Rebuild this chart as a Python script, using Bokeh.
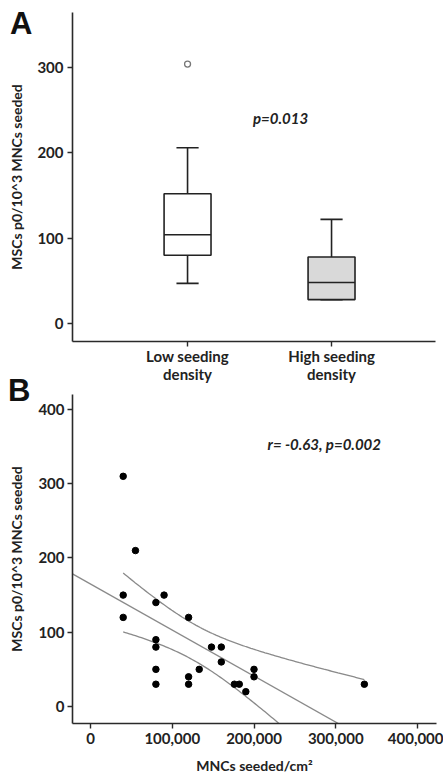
import numpy as np
from bokeh.plotting import figure
from bokeh.layouts import column
from bokeh.models import Range1d, FixedTicker, NumeralTickFormatter, Label, Div
from bokeh.embed import file_html
from bokeh.resources import INLINE

# ---------------- data ----------------
groups = ["Low seeding\ndensity", "High seeding\ndensity"]
group_pos = [1, 2]
box_q1 = [80, 28]
box_median = [104, 48]
box_q3 = [152, 78]
whisker_low = [47, 28]
whisker_high = [206, 122]
box_fill = ["#ffffff", "#d9d9d9"]
outlier_pos = [1]
outlier_value = [304]
p_text_a = "p=0.013"

mnc_seeded = [40000, 55000, 40000, 40000, 80000, 90000, 80000, 80000, 80000, 80000,
              120000, 120000, 120000, 133000, 148000, 160000, 160000, 176000, 182000,
              190000, 200000, 200000, 335000]
msc_p0 = [310, 210, 150, 120, 140, 150, 90, 80, 50, 30,
          120, 40, 30, 50, 80, 80, 60, 30, 30, 20, 50, 40, 30]
r_text_b = "r= -0.63, p=0.002"

y_ticks_a = [0, 100, 200, 300]
y_ticks_b = [0, 100, 200, 300, 400]
x_ticks_b = [0, 100000, 200000, 300000, 400000]

FONT = "Lato"
AX = "#2a2a2a"


def style_axes(p):
    p.outline_line_color = None
    p.border_fill_color = None
    p.grid.visible = False
    for ax in (p.xaxis[0], p.yaxis[0]):
        ax.axis_line_color = AX
        ax.axis_line_width = 1.6
        ax.major_tick_line_color = AX
        ax.major_tick_line_width = 1.4
        ax.major_tick_out = 5
        ax.major_tick_in = 0
        ax.minor_tick_line_color = None
        ax.major_label_text_font = FONT
        ax.major_label_text_font_style = "bold"
        ax.major_label_text_font_size = "15px"
        ax.major_label_text_color = "#222222"
        ax.axis_label_text_font = FONT
        ax.axis_label_text_font_style = "bold"
        ax.axis_label_text_font_size = "14px"
        ax.axis_label_text_color = "#222222"


def panel_letter(letter, top, height, pad_left):
    return Div(text=letter, width=40, height=height, margin=(top, 0, -(top + height), 0),
               styles={"font-family": "Liberation Sans", "font-weight": "bold",
                       "font-size": "31px", "color": "#111111", "line-height": "36px",
                       "padding-left": "%dpx" % pad_left})


# ---------------- panel A ----------------
pA = figure(frame_width=363, frame_height=329, x_range=Range1d(0.201, 2.722), y_range=Range1d(-21.1, 364.5),
            output_backend="svg", toolbar_location=None,
            min_border_left=72, min_border_right=8, min_border_top=12, min_border_bottom=0)
style_axes(pA)
pA.yaxis.ticker = FixedTicker(ticks=y_ticks_a)
pA.xaxis.ticker = FixedTicker(ticks=group_pos)
pA.xaxis.major_label_overrides = {group_pos[i]: groups[i] for i in range(len(groups))}
pA.xaxis.major_label_standoff = 0
pA.xaxis.major_label_text_line_height = 1.0
pA.yaxis.major_label_standoff = 4
pA.yaxis.axis_label = "MSCs p0/10^3 MNCs seeded"
pA.yaxis.axis_label_standoff = 9

bw = 0.326
cw = 0.077
gp = np.array(group_pos, dtype=float)
pA.segment(x0=gp, y0=box_q3, x1=gp, y1=whisker_high, line_color="#222222", line_width=1.6)
pA.segment(x0=gp, y0=box_q1, x1=gp, y1=whisker_low, line_color="#222222", line_width=1.6)
pA.segment(x0=gp - cw, y0=whisker_high, x1=gp + cw, y1=whisker_high, line_color="#222222", line_width=1.6)
pA.segment(x0=gp - cw, y0=whisker_low, x1=gp + cw, y1=whisker_low, line_color="#222222", line_width=1.6)
pA.vbar(x=gp, bottom=box_q1, top=box_q3, width=bw, fill_color=box_fill, line_color="#222222", line_width=1.6)
pA.segment(x0=gp - bw / 2, y0=box_median, x1=gp + bw / 2, y1=box_median, line_color="#222222", line_width=1.6)
pA.scatter(x=outlier_pos, y=outlier_value, size=6, marker="circle", fill_color="white",
           line_color="#777777", line_width=1.3)

pA.add_layout(Label(x=1.646, y=241.4, text=p_text_a, text_align="center", text_baseline="middle",
                    text_font=FONT, text_font_style="bold italic", text_font_size="15px",
                    text_color="#222222"))

# ---------------- panel B ----------------
pB = figure(frame_width=364, frame_height=329, x_range=Range1d(-22018, 423241), y_range=Range1d(-22.9, 420.2),
            output_backend="svg", toolbar_location=None,
            min_border_left=69, min_border_right=10, min_border_top=9, min_border_bottom=0)
style_axes(pB)
pB.yaxis.ticker = FixedTicker(ticks=y_ticks_b)
pB.xaxis.ticker = FixedTicker(ticks=x_ticks_b)
pB.xaxis.formatter = NumeralTickFormatter(format="0,0")
pB.yaxis.major_label_standoff = 3
pB.xaxis.major_label_standoff = 4
pB.yaxis.axis_label = "MSCs p0/10^3 MNCs seeded"
pB.yaxis.axis_label_standoff = 10
pB.xaxis.axis_label = "MNCs seeded/cm\u00b2"
pB.xaxis.axis_label_standoff = 10

x = np.array(mnc_seeded, dtype=float)
y = np.array(msc_p0, dtype=float)
n = len(x)
slope, intercept = np.polyfit(x, y, 1)
resid = y - (slope * x + intercept)
s = np.sqrt(np.sum(resid ** 2) / (n - 2))
sxx = np.sum((x - x.mean()) ** 2)
t_crit = 2.080
xs = np.linspace(x.min(), x.max(), 120)
fit = slope * xs + intercept
half = t_crit * s * np.sqrt(1.0 / n + (xs - x.mean()) ** 2 / sxx)

xl = np.array([-22018, 423241], dtype=float)
pB.line(xl, slope * xl + intercept, line_color="#8a8a8a", line_width=1.3)
pB.line(xs, fit + half, line_color="#8a8a8a", line_width=1.3)
pB.line(xs, fit - half, line_color="#8a8a8a", line_width=1.3)
pB.scatter(x=mnc_seeded, y=msc_p0, size=6.5, marker="circle", fill_color="#000000", line_color="#000000")

pB.add_layout(Label(x=286000, y=353, text=r_text_b, text_align="center", text_baseline="middle",
                    text_font=FONT, text_font_style="bold italic", text_font_size="15px",
                    text_color="#222222"))

divA = panel_letter("A", 6, 40, 10)
divB = panel_letter("B", -12, 40, 8)

layout = column(divA, pA, divB, pB, spacing=0)
open("out.html", "w").write(file_html(layout, INLINE))
